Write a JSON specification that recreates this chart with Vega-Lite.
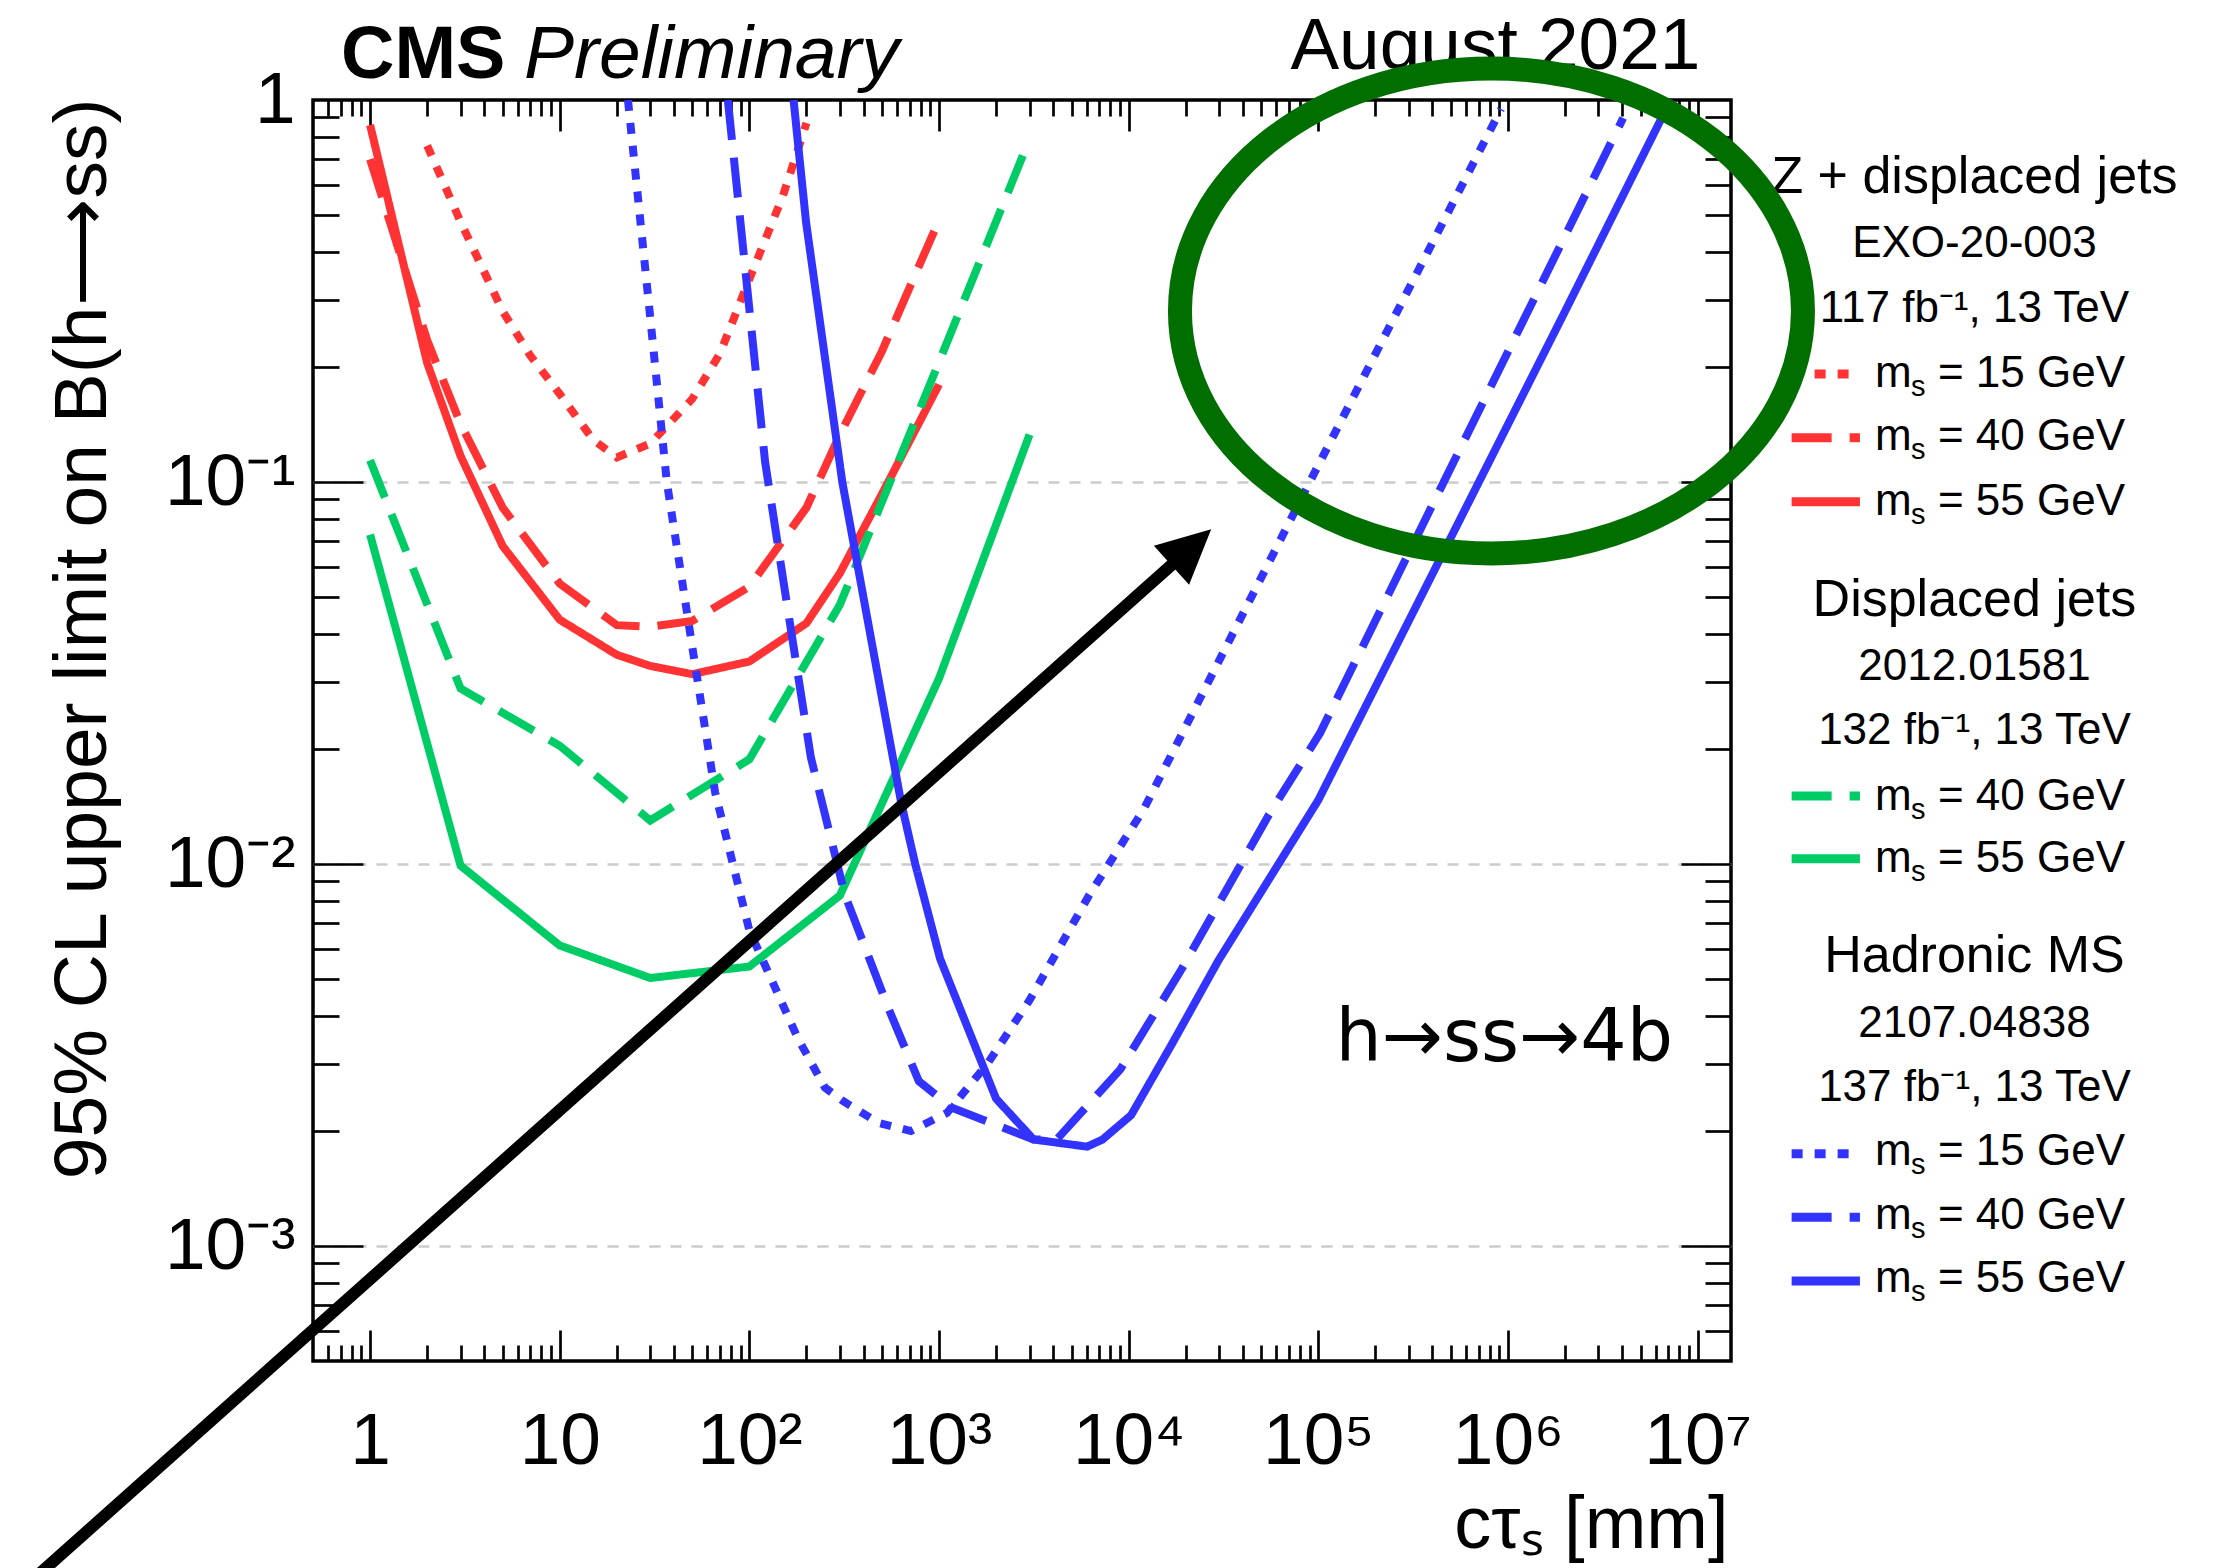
{
  "$schema": "https://vega.github.io/schema/vega-lite/v6.json",
  "width": 1418,
  "height": 1261,
  "autosize": {"type": "none"},
  "padding": {"left": 313, "top": 100, "right": 503, "bottom": 207},
  "background": "white",
  "config": {
    "view": {"stroke": "black", "strokeWidth": 3.5},
    "font": "Liberation Sans",
    "axis": {"labelColor": "black", "titleColor": "black", "tickColor": "black", "domain": false, "grid": false, "titleFontWeight": "normal", "labelFlush": false, "labelOverlap": false, "labelBound": false}
  },
  "datasets": {
    "dummy": [{"x": 1, "y": 0.1}],
    "curves": [
      {"s":"ZDJ15","a":"ZDJ","m":"15","x":2,"y":0.76},{"s":"ZDJ15","a":"ZDJ","m":"15","x":3,"y":0.48},{"s":"ZDJ15","a":"ZDJ","m":"15","x":5,"y":0.28},{"s":"ZDJ15","a":"ZDJ","m":"15","x":7,"y":0.214},{"s":"ZDJ15","a":"ZDJ","m":"15","x":10,"y":0.17},{"s":"ZDJ15","a":"ZDJ","m":"15","x":15,"y":0.129},{"s":"ZDJ15","a":"ZDJ","m":"15","x":20,"y":0.116},{"s":"ZDJ15","a":"ZDJ","m":"15","x":30,"y":0.126},{"s":"ZDJ15","a":"ZDJ","m":"15","x":50,"y":0.165},{"s":"ZDJ15","a":"ZDJ","m":"15","x":70,"y":0.217},{"s":"ZDJ15","a":"ZDJ","m":"15","x":100,"y":0.34},{"s":"ZDJ15","a":"ZDJ","m":"15","x":150,"y":0.56},{"s":"ZDJ15","a":"ZDJ","m":"15","x":200,"y":0.87},
      {"s":"ZDJ40","a":"ZDJ","m":"40","x":1,"y":0.70},{"s":"ZDJ40","a":"ZDJ","m":"40","x":2,"y":0.235},{"s":"ZDJ40","a":"ZDJ","m":"40","x":3,"y":0.142},{"s":"ZDJ40","a":"ZDJ","m":"40","x":5,"y":0.0857},{"s":"ZDJ40","a":"ZDJ","m":"40","x":10,"y":0.0542},{"s":"ZDJ40","a":"ZDJ","m":"40","x":20,"y":0.0422},{"s":"ZDJ40","a":"ZDJ","m":"40","x":30,"y":0.0418},{"s":"ZDJ40","a":"ZDJ","m":"40","x":50,"y":0.0433},{"s":"ZDJ40","a":"ZDJ","m":"40","x":100,"y":0.0532},{"s":"ZDJ40","a":"ZDJ","m":"40","x":200,"y":0.0857},{"s":"ZDJ40","a":"ZDJ","m":"40","x":300,"y":0.133},{"s":"ZDJ40","a":"ZDJ","m":"40","x":500,"y":0.22},{"s":"ZDJ40","a":"ZDJ","m":"40","x":1000,"y":0.485},
      {"s":"ZDJ55","a":"ZDJ","m":"55","x":1,"y":0.86},{"s":"ZDJ55","a":"ZDJ","m":"55","x":2,"y":0.205},{"s":"ZDJ55","a":"ZDJ","m":"55","x":3,"y":0.117},{"s":"ZDJ55","a":"ZDJ","m":"55","x":5,"y":0.068},{"s":"ZDJ55","a":"ZDJ","m":"55","x":10,"y":0.0436},{"s":"ZDJ55","a":"ZDJ","m":"55","x":20,"y":0.0353},{"s":"ZDJ55","a":"ZDJ","m":"55","x":30,"y":0.033},{"s":"ZDJ55","a":"ZDJ","m":"55","x":50,"y":0.0314},{"s":"ZDJ55","a":"ZDJ","m":"55","x":100,"y":0.0339},{"s":"ZDJ55","a":"ZDJ","m":"55","x":200,"y":0.0427},{"s":"ZDJ55","a":"ZDJ","m":"55","x":300,"y":0.0577},{"s":"ZDJ55","a":"ZDJ","m":"55","x":500,"y":0.093},{"s":"ZDJ55","a":"ZDJ","m":"55","x":1000,"y":0.18},
      {"s":"DJ40","a":"DJ","m":"40","x":1,"y":0.114},{"s":"DJ40","a":"DJ","m":"40","x":3,"y":0.0288},{"s":"DJ40","a":"DJ","m":"40","x":10,"y":0.0204},{"s":"DJ40","a":"DJ","m":"40","x":30,"y":0.013},{"s":"DJ40","a":"DJ","m":"40","x":100,"y":0.0188},{"s":"DJ40","a":"DJ","m":"40","x":300,"y":0.0477},{"s":"DJ40","a":"DJ","m":"40","x":1000,"y":0.206},{"s":"DJ40","a":"DJ","m":"40","x":3000,"y":0.79},
      {"s":"DJ55","a":"DJ","m":"55","x":1,"y":0.0728},{"s":"DJ55","a":"DJ","m":"55","x":3,"y":0.0099},{"s":"DJ55","a":"DJ","m":"55","x":10,"y":0.00612},{"s":"DJ55","a":"DJ","m":"55","x":30,"y":0.00503},{"s":"DJ55","a":"DJ","m":"55","x":100,"y":0.00539},{"s":"DJ55","a":"DJ","m":"55","x":300,"y":0.00827},{"s":"DJ55","a":"DJ","m":"55","x":1000,"y":0.0306},{"s":"DJ55","a":"DJ","m":"55","x":3000,"y":0.133},
      {"s":"HMS15","a":"HMS","m":"15","x":22.9,"y":1.0},{"s":"HMS15","a":"HMS","m":"15","x":30,"y":0.27},{"s":"HMS15","a":"HMS","m":"15","x":36.7,"y":0.1},{"s":"HMS15","a":"HMS","m":"15","x":50,"y":0.037},{"s":"HMS15","a":"HMS","m":"15","x":66,"y":0.0154},{"s":"HMS15","a":"HMS","m":"15","x":100,"y":0.0067},{"s":"HMS15","a":"HMS","m":"15","x":180,"y":0.0035},{"s":"HMS15","a":"HMS","m":"15","x":250,"y":0.0026},{"s":"HMS15","a":"HMS","m":"15","x":310,"y":0.0024},{"s":"HMS15","a":"HMS","m":"15","x":480,"y":0.0021},{"s":"HMS15","a":"HMS","m":"15","x":710,"y":0.002},{"s":"HMS15","a":"HMS","m":"15","x":1100,"y":0.00223},{"s":"HMS15","a":"HMS","m":"15","x":1800,"y":0.003},{"s":"HMS15","a":"HMS","m":"15","x":3000,"y":0.0044},{"s":"HMS15","a":"HMS","m":"15","x":6200,"y":0.0083},{"s":"HMS15","a":"HMS","m":"15","x":12000,"y":0.0139},{"s":"HMS15","a":"HMS","m":"15","x":91000,"y":0.101},{"s":"HMS15","a":"HMS","m":"15","x":920000,"y":0.947},
      {"s":"HMS40","a":"HMS","m":"40","x":77,"y":1.0},{"s":"HMS40","a":"HMS","m":"40","x":121,"y":0.113},{"s":"HMS40","a":"HMS","m":"40","x":152,"y":0.054},{"s":"HMS40","a":"HMS","m":"40","x":211,"y":0.019},{"s":"HMS40","a":"HMS","m":"40","x":319,"y":0.0083},{"s":"HMS40","a":"HMS","m":"40","x":540,"y":0.0042},{"s":"HMS40","a":"HMS","m":"40","x":783,"y":0.0027},{"s":"HMS40","a":"HMS","m":"40","x":1170,"y":0.0023},{"s":"HMS40","a":"HMS","m":"40","x":3150,"y":0.0019},{"s":"HMS40","a":"HMS","m":"40","x":4170,"y":0.0019},{"s":"HMS40","a":"HMS","m":"40","x":9040,"y":0.0029},{"s":"HMS40","a":"HMS","m":"40","x":19000,"y":0.0053},{"s":"HMS40","a":"HMS","m":"40","x":54600,"y":0.0134},{"s":"HMS40","a":"HMS","m":"40","x":102000,"y":0.022},{"s":"HMS40","a":"HMS","m":"40","x":4050000,"y":0.897},
      {"s":"HMS55","a":"HMS","m":"55","x":171,"y":1.0},{"s":"HMS55","a":"HMS","m":"55","x":199,"y":0.479},{"s":"HMS55","a":"HMS","m":"55","x":309,"y":0.1},{"s":"HMS55","a":"HMS","m":"55","x":631,"y":0.0145},{"s":"HMS55","a":"HMS","m":"55","x":749,"y":0.01},{"s":"HMS55","a":"HMS","m":"55","x":1013,"y":0.00565},{"s":"HMS55","a":"HMS","m":"55","x":2000,"y":0.00243},{"s":"HMS55","a":"HMS","m":"55","x":3155,"y":0.0019},{"s":"HMS55","a":"HMS","m":"55","x":6040,"y":0.00182},{"s":"HMS55","a":"HMS","m":"55","x":7280,"y":0.0019},{"s":"HMS55","a":"HMS","m":"55","x":10300,"y":0.0022},{"s":"HMS55","a":"HMS","m":"55","x":16800,"y":0.00336},{"s":"HMS55","a":"HMS","m":"55","x":29800,"y":0.0056},{"s":"HMS55","a":"HMS","m":"55","x":100000,"y":0.0147},{"s":"HMS55","a":"HMS","m":"55","x":1980000,"y":0.277},{"s":"HMS55","a":"HMS","m":"55","x":6460000,"y":0.897}
    ],
    "legendLines": [
      {"s":"ZDJ15","a":"ZDJ","m":"15","x":31320000,"y":0.1917},{"s":"ZDJ15","a":"ZDJ","m":"15","x":71780000,"y":0.1917},
      {"s":"ZDJ40","a":"ZDJ","m":"40","x":31320000,"y":0.1306},{"s":"ZDJ40","a":"ZDJ","m":"40","x":71780000,"y":0.1306},
      {"s":"ZDJ55","a":"ZDJ","m":"55","x":31320000,"y":0.08878},{"s":"ZDJ55","a":"ZDJ","m":"55","x":71780000,"y":0.08878},
      {"s":"DJ40","a":"DJ","m":"40","x":31320000,"y":0.01507},{"s":"DJ40","a":"DJ","m":"40","x":71780000,"y":0.01507},
      {"s":"DJ55","a":"DJ","m":"55","x":31320000,"y":0.01032},{"s":"DJ55","a":"DJ","m":"55","x":71780000,"y":0.01032},
      {"s":"HMS15","a":"HMS","m":"15","x":31320000,"y":0.001745},{"s":"HMS15","a":"HMS","m":"15","x":71780000,"y":0.001745},
      {"s":"HMS40","a":"HMS","m":"40","x":31320000,"y":0.001189},{"s":"HMS40","a":"HMS","m":"40","x":71780000,"y":0.001189},
      {"s":"HMS55","a":"HMS","m":"55","x":31320000,"y":0.0008096},{"s":"HMS55","a":"HMS","m":"55","x":71780000,"y":0.0008096}
    ],
    "legendEntries": [
      {"label":"= 15 GeV","x":86120000,"y":0.1776},
      {"label":"= 40 GeV","x":86120000,"y":0.1213},
      {"label":"= 55 GeV","x":86120000,"y":0.08195},
      {"label":"= 40 GeV","x":86120000,"y":0.01385},
      {"label":"= 55 GeV","x":86120000,"y":0.009506},
      {"label":"= 15 GeV","x":86120000,"y":0.001632},
      {"label":"= 40 GeV","x":86120000,"y":0.00111},
      {"label":"= 55 GeV","x":86120000,"y":0.0007564}
    ],
    "legendHeads": [
      {"t":"Z + displaced jets","role":"title","x":288300000,"y":0.5699},
      {"t":"EXO-20-003","role":"ref","x":288300000,"y":0.3889},
      {"t":"117 fb⁻¹, 13 TeV","role":"ref","x":288300000,"y":0.2628},
      {"t":"Displaced jets","role":"title","x":288300000,"y":0.0445},
      {"t":"2012.01581","role":"ref","x":288300000,"y":0.03032},
      {"t":"132 fb⁻¹, 13 TeV","role":"ref","x":288300000,"y":0.02063},
      {"t":"Hadronic MS","role":"title","x":288300000,"y":0.005202},
      {"t":"2107.04838","role":"ref","x":288300000,"y":0.003524},
      {"t":"137 fb⁻¹, 13 TeV","role":"ref","x":288300000,"y":0.002396}
    ]
  },
  "resolve": {"axis": {"x": "independent", "y": "independent"}},
  "layer": [
    {
      "data": {"name": "dummy"},
      "mark": {"type": "point", "opacity": 0},
      "encoding": {
        "x": {"field": "x", "type": "quantitative", "scale": {"type": "log", "domain": [0.5, 15000000], "nice": false},
          "axis": {"orient": "bottom", "values": [1, 10, 100, 1000, 10000, 100000, 1000000, 10000000],
            "labelExpr": "['1','10','10²','10³','10⁴','10⁵','10⁶','10⁷'][round(log(datum.value)/LN10)]",
            "ticks": false, "labelFont": "Liberation Sans Narrow, Liberation Sans", "labelFontSize": 73, "labelPadding": 44,
            "title": "cτₛ [mm]", "titleFont": "Liberation Sans", "titleFontSize": 74, "titleAlign": "right", "titleBaseline": "alphabetic", "titleX": 1415, "titleY": 186}},
        "y": {"field": "y", "type": "quantitative", "scale": {"type": "log", "domain": [0.0005, 1], "nice": false},
          "axis": {"orient": "left", "values": [0.001, 0.01, 0.1, 1],
            "labelExpr": "['10⁻³','10⁻²','10⁻¹','1'][round(log(datum.value)/LN10)+3]",
            "ticks": false, "labelFont": "Liberation Sans Narrow, Liberation Sans", "labelFontSize": 73, "labelPadding": 18,
            "title": "95% CL upper limit on B(h⟶ss)", "titleFont": "Liberation Sans", "titleFontSize": 75, "titleAngle": 270, "titleAlign": "right", "titleBaseline": "alphabetic", "titleX": -208, "titleY": -2}}
      }
    },
    {
      "data": {"name": "dummy"},
      "mark": {"type": "point", "opacity": 0},
      "encoding": {
        "x": {"field": "x", "type": "quantitative", "scale": {"type": "log", "domain": [0.5, 15000000], "nice": false},
          "axis": {"orient": "bottom", "values": [0.6,0.7,0.8,0.9,2,3,4,5,6,7,8,9,20,30,40,50,60,70,80,90,200,300,400,500,600,700,800,900,2000,3000,4000,5000,6000,7000,8000,9000,20000,30000,40000,50000,60000,70000,80000,90000,200000,300000,400000,500000,600000,700000,800000,900000,2000000,3000000,4000000,5000000,6000000,7000000,8000000,9000000],
            "labels": false, "ticks": true, "tickSize": 16, "tickWidth": 2.7, "offset": -16, "title": null}},
        "y": {"field": "y", "type": "quantitative", "scale": {"type": "log", "domain": [0.0005, 1], "nice": false},
          "axis": {"orient": "left", "values": [0.0006,0.0007,0.0008,0.0009,0.002,0.003,0.004,0.005,0.006,0.007,0.008,0.009,0.02,0.03,0.04,0.05,0.06,0.07,0.08,0.09,0.2,0.3,0.4,0.5,0.6,0.7,0.8,0.9],
            "labels": false, "ticks": true, "tickSize": 26, "tickWidth": 2.7, "offset": -26, "title": null}}
      }
    },
    {
      "data": {"name": "dummy"},
      "mark": {"type": "point", "opacity": 0},
      "encoding": {
        "x": {"field": "x", "type": "quantitative", "scale": {"type": "log", "domain": [0.5, 15000000], "nice": false},
          "axis": {"orient": "bottom", "values": [1, 10, 100, 1000, 10000, 100000, 1000000, 10000000],
            "labels": false, "ticks": true, "tickSize": 31, "tickWidth": 2.7, "offset": -31, "title": null}},
        "y": {"field": "y", "type": "quantitative", "scale": {"type": "log", "domain": [0.0005, 1], "nice": false},
          "axis": {"orient": "left", "values": [0.001, 0.01, 0.1],
            "labels": false, "ticks": true, "tickSize": 50, "tickWidth": 2.7, "offset": -50, "title": null}}
      }
    },
    {
      "data": {"name": "dummy"},
      "mark": {"type": "point", "opacity": 0},
      "encoding": {
        "x": {"field": "x", "type": "quantitative", "scale": {"type": "log", "domain": [0.5, 15000000], "nice": false},
          "axis": {"orient": "top", "values": [1, 10, 100, 1000, 10000, 100000, 1000000, 10000000],
            "labels": false, "ticks": true, "tickSize": 31, "tickWidth": 2.7, "offset": -31, "title": null}},
        "y": {"field": "y", "type": "quantitative", "scale": {"type": "log", "domain": [0.0005, 1], "nice": false},
          "axis": {"orient": "right", "values": [0.001, 0.01, 0.1],
            "labels": false, "ticks": true, "tickSize": 50, "tickWidth": 2.7, "offset": -50, "title": null}}
      }
    },
    {
      "data": {"name": "dummy"},
      "mark": {"type": "point", "opacity": 0},
      "encoding": {
        "x": {"field": "x", "type": "quantitative", "scale": {"type": "log", "domain": [0.5, 15000000], "nice": false},
          "axis": {"orient": "top", "values": [0.6,0.7,0.8,0.9,2,3,4,5,6,7,8,9,20,30,40,50,60,70,80,90,200,300,400,500,600,700,800,900,2000,3000,4000,5000,6000,7000,8000,9000,20000,30000,40000,50000,60000,70000,80000,90000,200000,300000,400000,500000,600000,700000,800000,900000,2000000,3000000,4000000,5000000,6000000,7000000,8000000,9000000],
            "labels": false, "ticks": true, "tickSize": 16, "tickWidth": 2.7, "offset": -16, "title": null}},
        "y": {"field": "y", "type": "quantitative", "scale": {"type": "log", "domain": [0.0005, 1], "nice": false},
          "axis": {"orient": "right", "values": [0.0006,0.0007,0.0008,0.0009,0.002,0.003,0.004,0.005,0.006,0.007,0.008,0.009,0.02,0.03,0.04,0.05,0.06,0.07,0.08,0.09,0.2,0.3,0.4,0.5,0.6,0.7,0.8,0.9],
            "labels": false, "ticks": true, "tickSize": 26, "tickWidth": 2.7, "offset": -26, "title": null}}
      }
    },
    {
      "data": {"name": "dummy"},
      "mark": {"type": "point", "opacity": 0},
      "encoding": {
        "x": {"field": "x", "type": "quantitative", "scale": {"type": "log", "domain": [0.5, 15000000], "nice": false}, "axis": null},
        "y": {"field": "y", "type": "quantitative", "scale": {"type": "log", "domain": [0.0005, 1], "nice": false},
          "axis": {"orient": "right", "values": [0.001, 0.01, 0.1], "labels": false, "ticks": false, "grid": true, "gridColor": "#cccccc", "gridDash": [11, 10], "gridWidth": 2.5, "title": null}}
      }
    },
    {
      "data": {"name": "curves"},
      "mark": {"type": "line", "strokeWidth": 8, "clip": true, "strokeJoin": "miter"},
      "encoding": {
        "x": {"field": "x", "type": "quantitative", "scale": {"type": "log", "domain": [0.5, 15000000], "nice": false}, "axis": null},
        "y": {"field": "y", "type": "quantitative", "scale": {"type": "log", "domain": [0.0005, 1], "nice": false}, "axis": null},
        "color": {"field": "a", "type": "nominal", "scale": {"domain": ["ZDJ", "DJ", "HMS"], "range": ["#ff3333", "#00cc66", "#3333ff"]}, "legend": null},
        "strokeDash": {"field": "m", "type": "nominal", "scale": {"domain": ["15", "40", "55"], "range": [[11, 12], [40, 18], [1, 0]]}, "legend": null},
        "detail": {"field": "s"}
      }
    },
    {
      "data": {"values": [{"t": "h→ss→4b", "x": 7415000, "y": 0.003054}]},
      "mark": {"type": "text", "fontSize": 73, "align": "right", "baseline": "alphabetic", "font": "DejaVu Sans", "color": "black"},
      "encoding": {
        "x": {"field": "x", "type": "quantitative", "scale": {"type": "log", "domain": [0.5, 15000000], "nice": false}, "axis": null},
        "y": {"field": "y", "type": "quantitative", "scale": {"type": "log", "domain": [0.0005, 1], "nice": false}, "axis": null},
        "text": {"field": "t"}
      }
    },
    {
      "data": {"name": "legendLines"},
      "mark": {"type": "line", "strokeWidth": 9, "clip": false},
      "encoding": {
        "x": {"field": "x", "type": "quantitative", "scale": {"type": "log", "domain": [0.5, 15000000], "nice": false}, "axis": null},
        "y": {"field": "y", "type": "quantitative", "scale": {"type": "log", "domain": [0.0005, 1], "nice": false}, "axis": null},
        "color": {"field": "a", "type": "nominal", "scale": {"domain": ["ZDJ", "DJ", "HMS"], "range": ["#ff3333", "#00cc66", "#3333ff"]}, "legend": null},
        "strokeDash": {"field": "m", "type": "nominal", "scale": {"domain": ["15", "40", "55"], "range": [[11, 12], [40, 18], [1, 0]]}, "legend": null},
        "detail": {"field": "s"}
      }
    },
    {
      "data": {"name": "legendEntries"},
      "mark": {"type": "text", "text": "m", "fontSize": 44, "align": "left", "baseline": "alphabetic", "font": "Liberation Sans", "color": "black"},
      "encoding": {
        "x": {"field": "x", "type": "quantitative", "scale": {"type": "log", "domain": [0.5, 15000000], "nice": false}, "axis": null},
        "y": {"field": "y", "type": "quantitative", "scale": {"type": "log", "domain": [0.0005, 1], "nice": false}, "axis": null}
      }
    },
    {
      "data": {"name": "legendEntries"},
      "mark": {"type": "text", "text": "s", "fontSize": 29, "align": "left", "baseline": "alphabetic", "dx": 36, "dy": 9, "font": "Liberation Sans", "color": "black"},
      "encoding": {
        "x": {"field": "x", "type": "quantitative", "scale": {"type": "log", "domain": [0.5, 15000000], "nice": false}, "axis": null},
        "y": {"field": "y", "type": "quantitative", "scale": {"type": "log", "domain": [0.0005, 1], "nice": false}, "axis": null}
      }
    },
    {
      "data": {"name": "legendEntries"},
      "mark": {"type": "text", "fontSize": 44, "align": "left", "baseline": "alphabetic", "dx": 63, "font": "Liberation Sans", "color": "black"},
      "encoding": {
        "x": {"field": "x", "type": "quantitative", "scale": {"type": "log", "domain": [0.5, 15000000], "nice": false}, "axis": null},
        "y": {"field": "y", "type": "quantitative", "scale": {"type": "log", "domain": [0.0005, 1], "nice": false}, "axis": null},
        "text": {"field": "label"}
      }
    },
    {
      "data": {"name": "legendHeads"},
      "transform": [{"filter": "datum.role == 'title'"}],
      "mark": {"type": "text", "fontSize": 52, "align": "center", "baseline": "alphabetic", "font": "Liberation Sans", "color": "black"},
      "encoding": {
        "x": {"field": "x", "type": "quantitative", "scale": {"type": "log", "domain": [0.5, 15000000], "nice": false}, "axis": null},
        "y": {"field": "y", "type": "quantitative", "scale": {"type": "log", "domain": [0.0005, 1], "nice": false}, "axis": null},
        "text": {"field": "t"}
      }
    },
    {
      "data": {"name": "legendHeads"},
      "transform": [{"filter": "datum.role == 'ref'"}],
      "mark": {"type": "text", "fontSize": 44, "align": "center", "baseline": "alphabetic", "font": "Liberation Sans", "color": "black"},
      "encoding": {
        "x": {"field": "x", "type": "quantitative", "scale": {"type": "log", "domain": [0.5, 15000000], "nice": false}, "axis": null},
        "y": {"field": "y", "type": "quantitative", "scale": {"type": "log", "domain": [0.0005, 1], "nice": false}, "axis": null},
        "text": {"field": "t"}
      }
    },
    {
      "data": {"values": [{"t": "CMS", "x": 0.7024, "y": 1.1417}]},
      "mark": {"type": "text", "fontSize": 74, "fontWeight": "bold", "align": "left", "baseline": "alphabetic", "font": "Liberation Sans", "color": "black"},
      "encoding": {
        "x": {"field": "x", "type": "quantitative", "scale": {"type": "log", "domain": [0.5, 15000000], "nice": false}, "axis": null},
        "y": {"field": "y", "type": "quantitative", "scale": {"type": "log", "domain": [0.0005, 1], "nice": false}, "axis": null},
        "text": {"field": "t"}
      }
    },
    {
      "data": {"values": [{"t": "Preliminary", "x": 6.479, "y": 1.1417}]},
      "mark": {"type": "text", "fontSize": 75, "fontStyle": "italic", "align": "left", "baseline": "alphabetic", "font": "Liberation Sans", "color": "black"},
      "encoding": {
        "x": {"field": "x", "type": "quantitative", "scale": {"type": "log", "domain": [0.5, 15000000], "nice": false}, "axis": null},
        "y": {"field": "y", "type": "quantitative", "scale": {"type": "log", "domain": [0.0005, 1], "nice": false}, "axis": null},
        "text": {"field": "t"}
      }
    },
    {
      "data": {"values": [{"t": "August 2021", "x": 10340000, "y": 1.2057}]},
      "mark": {"type": "text", "fontSize": 73, "align": "right", "baseline": "alphabetic", "font": "Liberation Sans", "color": "black"},
      "encoding": {
        "x": {"field": "x", "type": "quantitative", "scale": {"type": "log", "domain": [0.5, 15000000], "nice": false}, "axis": null},
        "y": {"field": "y", "type": "quantitative", "scale": {"type": "log", "domain": [0.0005, 1], "nice": false}, "axis": null},
        "text": {"field": "t"}
      }
    },
    {
      "data": {"values": [{"x": 0.01558, "y": 0.00012993}, {"x": 17762, "y": 0.06211}]},
      "mark": {"type": "line", "color": "black", "strokeWidth": 12, "strokeCap": "butt", "clip": false},
      "encoding": {
        "x": {"field": "x", "type": "quantitative", "scale": {"type": "log", "domain": [0.5, 15000000], "nice": false}, "axis": null},
        "y": {"field": "y", "type": "quantitative", "scale": {"type": "log", "domain": [0.0005, 1], "nice": false}, "axis": null}
      }
    },
    {
      "data": {"values": [{"x": 21400, "y": 0.06747}]},
      "mark": {"type": "point", "shape": "M 0 -1 L 0.981 1 L -0.981 1 Z", "size": 2862, "angle": 47.9, "filled": true, "color": "black", "opacity": 1, "strokeWidth": 0},
      "encoding": {
        "x": {"field": "x", "type": "quantitative", "scale": {"type": "log", "domain": [0.5, 15000000], "nice": false}, "axis": null},
        "y": {"field": "y", "type": "quantitative", "scale": {"type": "log", "domain": [0.0005, 1], "nice": false}, "axis": null}
      }
    },
    {
      "data": {"values": [{"x": 818500, "y": 0.2803}]},
      "mark": {"type": "point", "shape": "M 1 0 C 1 0.43 0.5523 0.7785 0 0.7785 C -0.5523 0.7785 -1 0.43 -1 0 C -1 -0.43 -0.5523 -0.7785 0 -0.7785 C 0.5523 -0.7785 1 -0.43 1 0 Z", "size": 388129, "filled": false, "stroke": "#006f00", "strokeWidth": 24, "opacity": 1},
      "encoding": {
        "x": {"field": "x", "type": "quantitative", "scale": {"type": "log", "domain": [0.5, 15000000], "nice": false}, "axis": null},
        "y": {"field": "y", "type": "quantitative", "scale": {"type": "log", "domain": [0.0005, 1], "nice": false}, "axis": null}
      }
    }
  ]
}
